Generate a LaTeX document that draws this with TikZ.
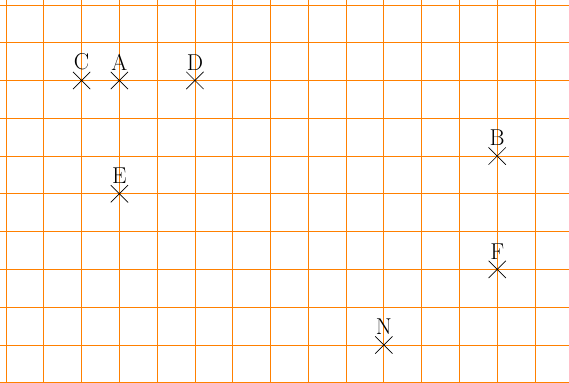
\documentclass[tikz,border=0pt]{standalone}
\usepackage{tikz}
\usetikzlibrary{shapes.misc}

\begin{document}
\begin{tikzpicture}[
  x=1cm, y=1cm,
  every label/.style={font=\LARGE, inner sep=1pt},
  pt/.style={draw, cross out, minimum size=0.44cm, inner sep=0pt, line width=0.5pt}
]
\useasboundingbox (-0.16, 0) rectangle (14.9, 10.13);

% gridlines
\draw[orange, line width=0.6pt] (-0.16, 0) grid (14.9, 10.13);

% points
\foreach \n/\x/\y in {A/3/8, B/13/6, C/2/8, D/5/8, E/3/5, F/13/3, N/10/1}
  \node[pt, label=above:\n] (\n) at (\x, \y) {};

\end{tikzpicture}
\end{document}
